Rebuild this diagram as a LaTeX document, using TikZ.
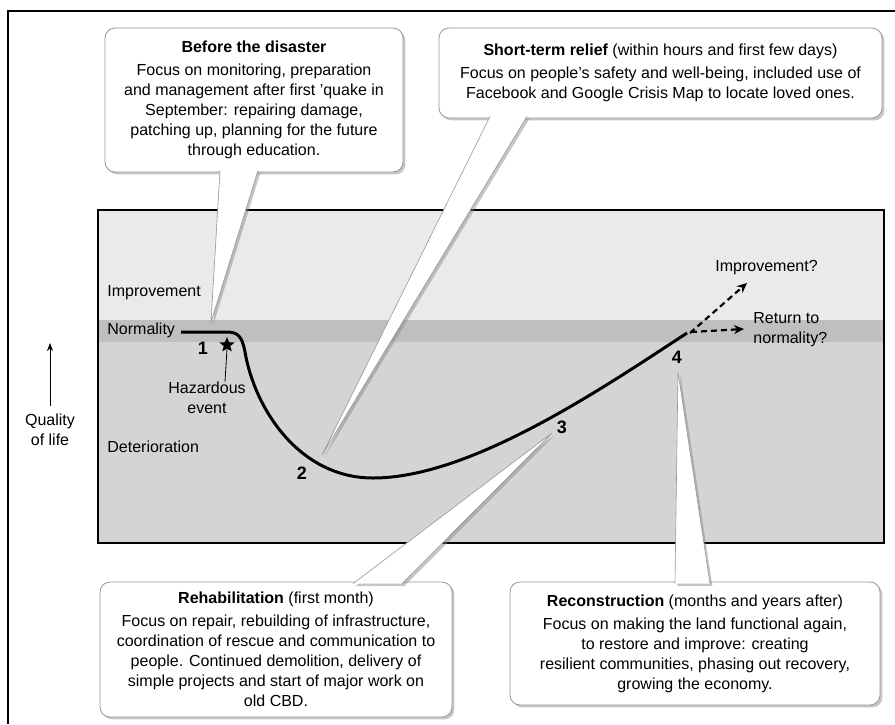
\documentclass[tikz,border=0pt]{standalone}
\usepackage{fontspec}
\setmainfont{Liberation Sans}
\usetikzlibrary{shapes.geometric,shadows,arrows.meta}
\definecolor{grisclair}{RGB}{233,234,236}
\definecolor{grisnormal}{RGB}{190,191,193}
\definecolor{grisfonce}{RGB}{211,212,214}
\definecolor{bordbulle}{RGB}{150,150,150}
\tikzset{
  bulle/.style={draw=bordbulle, line width=0.4pt, fill=white, rounded corners=5pt,
    align=center, inner sep=0pt, font=\fontsize{8}{10}\selectfont,
    drop shadow={shadow xshift=1.2pt, shadow yshift=-1.2pt, opacity=0.45}},
  pointe/.style={draw=bordbulle, line width=0.3pt, fill=white,
    drop shadow={shadow xshift=1.2pt, shadow yshift=-1.2pt, opacity=0.45}},
  etiquette/.style={inner sep=0pt, font=\fontsize{8}{10}\selectfont},
  numero/.style={inner sep=0pt, font=\fontsize{9}{10}\selectfont\bfseries},
  possible/.style={line width=1.1pt, dash pattern=on 3pt off 2pt,
    -{Stealth[length=5pt,width=4.5pt]}}
}
\begin{document}
\begin{tikzpicture}[x=0.5pt, y=-0.5pt]
\useasboundingbox (0,0) rectangle (895,724);
\draw[line width=1pt] (8,724) -- (8,11) -- (895,11); % cadre
% bandes du graphique
\fill[grisclair] (98,210) rectangle (884,320); % amélioration
\fill[grisnormal] (98,320) rectangle (884,342); % normalité
\fill[grisfonce] (98,342) rectangle (884,543); % détérioration
\draw[line width=0.6pt] (98,210) rectangle (884,543);
% textes des bandes
\node[etiquette, anchor=west] (amel) at (107,293) {Improvement};
\node[etiquette, anchor=west] (norm) at (107,330) {Normality};
\node[etiquette, anchor=west] (deter) at (107,447) {Deterioration};
% axe
\node[etiquette, align=center] (qualite) at (50,430) {Quality\\of life};
\coordinate (haut) at (50,343);
\draw[line width=0.4pt, -{Stealth[length=4pt,width=3pt]}] (qualite.north) ++(0,-8) -- (haut);
% courbe
\coordinate (debut) at (181,332);
\coordinate (fin) at (687,333);
\draw[line width=1.5pt] (debut) -- (226,332) .. controls (238,332) and (242,336) .. (245,352)
  .. controls (255,410) and (300,478) .. (373,478)
  .. controls (470,478) and (600,390) .. (fin);
% événement
\node[star, star points=5, star point ratio=2.3, fill=black, inner sep=0pt, minimum size=8pt] (etoile) at (227,345) {};
\node[etiquette, align=center] (hasard) at (207,398) {Hazardous\\event};
\draw[line width=0.4pt] ([xshift=9pt]hasard.north) -- (etoile.south);
% numéros
\node[numero] (n1) at (203,348) {1};
\node[numero] (n2) at (302,473) {2};
\node[numero] (n3) at (562,427) {3};
\node[numero] (n4) at (677,357) {4};
% suites possibles
\node[etiquette, anchor=west] (encore) at (715,268) {Improvement?};
\node[etiquette, anchor=west, align=left] (retour) at (753,330) {Return to\\normality?};
\coordinate (versamel) at (747,283);
\coordinate (versretour) at (744,329);
\draw[possible] ([shift={(3,0)}]fin) -- (versamel);
\draw[possible] ([shift={(4,-1)}]fin) -- (versretour);
% bulles
\node[bulle, minimum width=149pt, minimum height=72pt] (avant) at (254,100)
  {\textbf{Before the disaster}\\[1.5pt]
   Focus on monitoring, preparation\\
   and management after first ’quake in\\
   September: repairing damage,\\
   patching up, planning for the future\\
   through education.};
\node[bulle, minimum width=221.5pt, minimum height=45pt] (secours) at (660.5,73)
  {\textbf{Short-term relief} (within hours and first few days)\\[1.5pt]
   Focus on people’s safety and well-being, included use of\\
   Facebook and Google Crisis Map to locate loved ones.};
\node[bulle, minimum width=176pt, minimum height=67.5pt] (rehab) at (276,649.5)
  {\textbf{Rehabilitation} (first month)\\[1.5pt]
   Focus on repair, rebuilding of infrastructure,\\
   coordination of rescue and communication to\\
   people. Continued demolition, delivery of\\
   simple projects and start of major work on\\
   old CBD.};
\node[bulle, minimum width=185pt, minimum height=61.5pt] (reconst) at (695,643.5)
  {\textbf{Reconstruction} (months and years after)\\[1.5pt]
   Focus on making the land functional again,\\
   to restore and improve: creating\\
   resilient communities, phasing out recovery,\\
   growing the economy.};
% pointes des bulles
\coordinate (p1) at (211,322);
\coordinate (p2) at (322,455);
\coordinate (p3) at (552,433);
\coordinate (p4) at (678,372);
\filldraw[pointe] ([shift={(-34,-2)}]avant.south) -- (p1) -- ([shift={(4,-2)}]avant.south);
\filldraw[pointe] ([shift={(-170.5,-2)}]secours.south) -- (p2) -- ([shift={(-133.5,-2)}]secours.south);
\filldraw[pointe] ([shift={(77,2)}]rehab.north) -- (p3) -- ([shift={(126,2)}]rehab.north);
\filldraw[pointe] ([shift={(-20,2)}]reconst.north) -- (p4) -- ([shift={(15,2)}]reconst.north);
\end{tikzpicture}
\end{document}
